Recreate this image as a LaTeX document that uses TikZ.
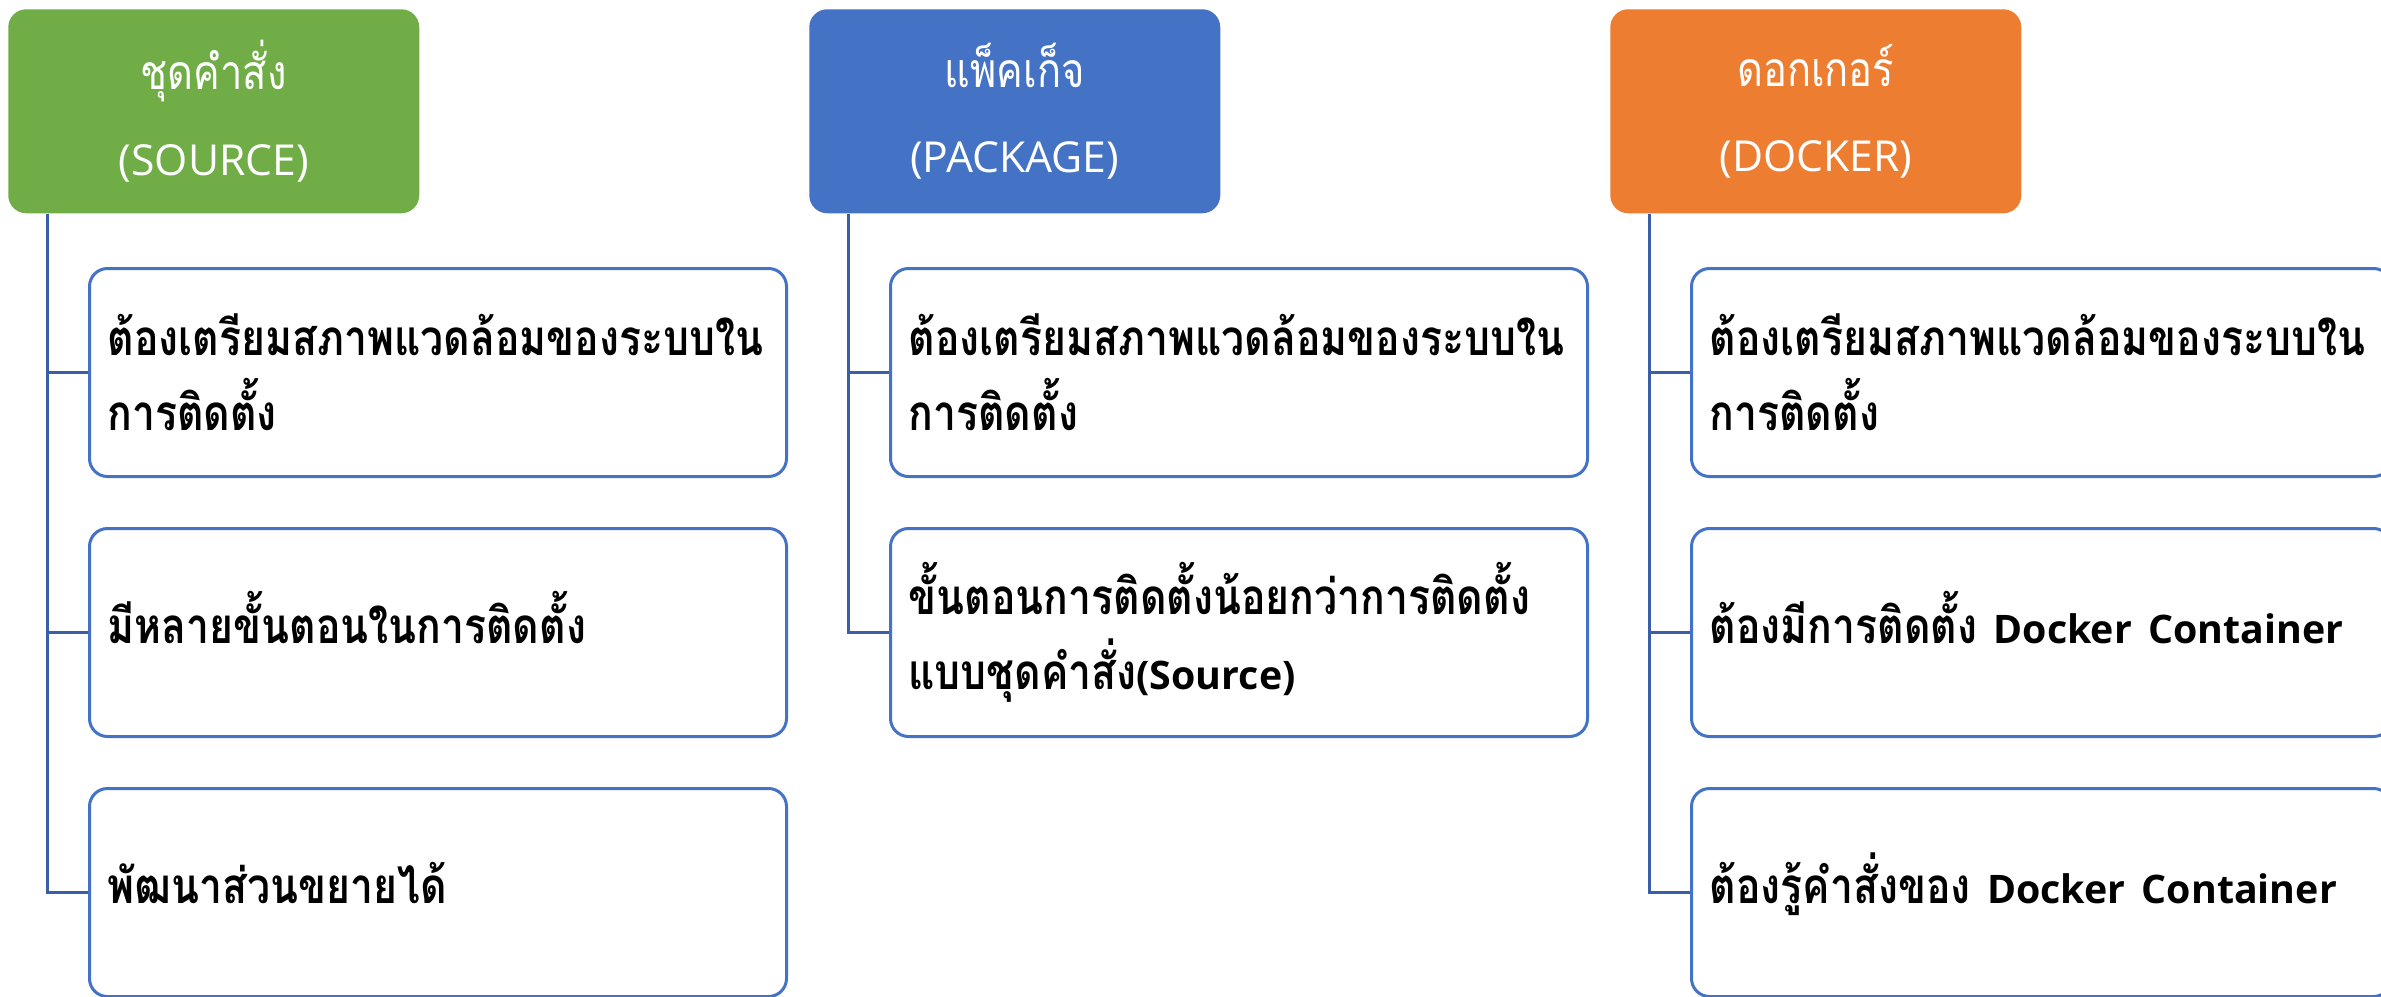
\documentclass[tikz,border=0pt]{standalone}
\usepackage{fontspec}
\setmainfont{Open Sans}
\newfontfamily\thai[Script=Thai,FakeStretch=0.83]{Loma}
\newfontfamily\lat{Open Sans}
\newcommand\latc{\lat\fontsize{29.5}{56.25}\selectfont}
\newcommand\lath{\lat\fontsize{32}{64}\selectfont}
\definecolor{cgreen}{HTML}{70AD47}
\definecolor{cblue}{HTML}{4472C4}
\definecolor{corange}{HTML}{ED7D31}
\definecolor{cline}{HTML}{3A5EA8}
\tikzset{
  head/.style={rounded corners=13.5pt, minimum width=308.25pt, minimum height=153pt,
    anchor=north west, text=white, align=center, inner sep=0pt,
    font=\fontsize{36}{64}\selectfont},
  leaf/.style={draw=cblue, line width=2.25pt, fill=white, rounded corners=13.5pt,
    minimum height=156pt, anchor=north west, inner xsep=13.5pt, inner ysep=0pt,
    align=left, font=\bfseries\fontsize{37}{56.25}\selectfont},
  leafa/.style={leaf, minimum width=522.75pt, text width=495.75pt},
  leafb/.style={leaf, minimum width=525pt, text width=498pt},
  oneline/.style={text height=22pt, text depth=5.5pt},
  conn/.style={draw=cline, line width=2.25pt}
}
\begin{document}
\begin{tikzpicture}[x=0.75pt,y=-0.75pt]
\useasboundingbox (0,0) rectangle (2381,996);
\clip (0,0) rectangle (2381,996);
% headers
\node[head, fill=cgreen] (h1) at (8,9) {{\thai ชุดคำสั่ง}\\{\lath (SOURCE)}};
\node[head, fill=cblue] (h2) at (809,9) {{\thai แพ็คเก็จ}\\{\lath (PACKAGE)}};
\node[head, fill=corange] (h3) at (1610,9) {{\thai ดอกเกอร์}\\{\lath (DOCKER)}};
% column 1
\node[leafa] (a1) at (88,267) {{\thai ต้องเตรียมสภาพแวดล้อมของระบบใน}\\{\thai การติดตั้ง}};
\node[leafa, oneline] (a2) at (88,527) {{\thai มีหลายขั้นตอนในการติดตั้ง}};
\node[leafa, oneline] (a3) at (88,787) {{\thai พัฒนาส่วนขยายได้}};
% column 2
\node[leafa] (b1) at (889,267) {{\thai ต้องเตรียมสภาพแวดล้อมของระบบใน}\\{\thai การติดตั้ง}};
\node[leafa] (b2) at (889,527) {{\thai ขั้นตอนการติดตั้งน้อยกว่าการติดตั้ง}\\{\thai แบบชุดคำสั่ง}{\latc (Source)}};
% column 3
\node[leafb] (c1) at (1690,267) {{\thai ต้องเตรียมสภาพแวดล้อมของระบบใน}\\{\thai การติดตั้ง}};
\node[leafb, oneline] (c2) at (1690,527) {{\thai ต้องมีการติดตั้ง}{\latc\ Docker Container}};
\node[leafb, oneline] (c3) at (1690,787) {{\thai ต้องรู้คำสั่งของ}{\latc\ Docker Container}};
% connectors
\draw[conn] (h1.south west) ++(39,0) |- (a3.west);
\draw[conn] (h1.south west) ++(39,0) |- (a1.west);
\draw[conn] (h1.south west) ++(39,0) |- (a2.west);
\draw[conn] (h2.south west) ++(39,0) |- (b2.west);
\draw[conn] (h2.south west) ++(39,0) |- (b1.west);
\draw[conn] (h3.south west) ++(39,0) |- (c3.west);
\draw[conn] (h3.south west) ++(39,0) |- (c1.west);
\draw[conn] (h3.south west) ++(39,0) |- (c2.west);
\end{tikzpicture}
\end{document}
